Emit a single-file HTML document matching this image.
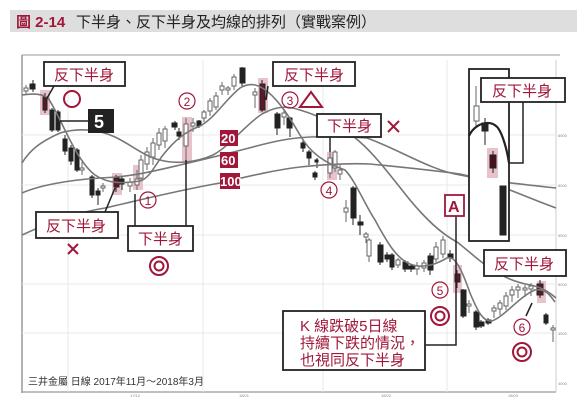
<!DOCTYPE html>
<html><head><meta charset="utf-8"><style>
html,body{margin:0;padding:0;background:#fff;}
svg{display:block;}
text{font-family:"Liberation Sans","Noto Sans CJK TC",sans-serif;}
</style></head><body>
<svg width="580" height="415" viewBox="0 0 580 415" xmlns="http://www.w3.org/2000/svg">
<rect x="10" y="10" width="567" height="22" fill="#dedede"/>
<text x="16" y="27" font-size="15" font-weight="bold" fill="#a0173a">圖 2-14</text>
<text x="76" y="27" font-size="15" fill="#222">下半身、反下半身及均線的排列（實戰案例）</text>
<line x1="22" y1="55" x2="560" y2="55" stroke="#bbb" stroke-width="1.5"/>
<line x1="22" y1="55" x2="22" y2="393" stroke="#999" stroke-width="1.5"/>
<line x1="22" y1="392" x2="556" y2="392" stroke="#999" stroke-width="1.2"/>
<line x1="556" y1="60" x2="556" y2="392" stroke="#ccc" stroke-width="1"/>
<g stroke="#e8e8e8" stroke-width="1">
<line x1="22" y1="135" x2="556" y2="135"/><line x1="22" y1="185" x2="556" y2="185"/>
<line x1="22" y1="235" x2="556" y2="235"/><line x1="22" y1="284" x2="556" y2="284"/>
<line x1="22" y1="333" x2="556" y2="333"/>
<line x1="68" y1="60" x2="68" y2="392"/><line x1="203" y1="60" x2="203" y2="392"/>
<line x1="323" y1="60" x2="323" y2="392"/><line x1="447" y1="60" x2="447" y2="392"/>
</g>
<g font-size="4" fill="#888">
<text x="558" y="137">6500</text><text x="558" y="187">6000</text><text x="558" y="237">5500</text>
<text x="558" y="286">5000</text><text x="558" y="335">4500</text><text x="558" y="385">4000</text>
<text x="130" y="397">17/12</text><text x="239" y="397">18/01</text><text x="381" y="397">18/02</text><text x="508" y="397">18/03</text>
</g>
<g fill="#e9c3cc">
<rect x="40" y="90" width="10" height="25"/><rect x="112" y="173" width="10" height="22"/>
<rect x="133" y="165" width="10" height="25"/><rect x="182" y="117" width="10" height="45"/>
<rect x="258" y="78" width="10" height="35"/><rect x="327" y="152" width="10" height="28"/>
<rect x="453" y="265" width="9" height="28"/><rect x="537" y="281" width="9" height="22"/>
</g>
<g stroke="#222" stroke-width="1">
<g fill="#222">
<line x1="33" y1="80" x2="33" y2="92"/><rect x="30" y="84" width="5" height="5"/>
<line x1="45" y1="93" x2="45" y2="113"/><rect x="43" y="97" width="4" height="13" fill="#5a1a2a"/>
<line x1="52" y1="108" x2="52" y2="132"/><rect x="50" y="110" width="4" height="20"/>
<line x1="58" y1="110" x2="58" y2="132"/><rect x="56" y="112" width="4" height="18"/>
<line x1="65" y1="135" x2="65" y2="155"/><rect x="63" y="139" width="4" height="12"/>
<line x1="71" y1="145" x2="71" y2="165"/><rect x="69" y="148" width="4" height="13"/>
<line x1="77" y1="148" x2="77" y2="172"/><rect x="75" y="150" width="4" height="20"/>
<line x1="92" y1="175" x2="92" y2="198"/><rect x="90" y="177" width="4" height="18"/>
<line x1="98" y1="188" x2="98" y2="205"/><rect x="96" y="191" width="4" height="4"/>
<line x1="116" y1="175" x2="116" y2="192"/><rect x="114" y="178" width="5" height="9" fill="#5a1a2a"/>
<line x1="122" y1="176" x2="122" y2="190"/><rect x="120" y="179" width="4" height="5"/>
<line x1="179" y1="128" x2="179" y2="140"/><rect x="177" y="132" width="4" height="4"/>
<line x1="175" y1="121" x2="175" y2="130"/><rect x="172" y="123" width="5" height="4"/>
<line x1="199" y1="120" x2="199" y2="128"/><rect x="197" y="121" width="4" height="5"/>
<line x1="242" y1="67" x2="242" y2="86"/><rect x="240" y="68" width="5" height="15"/>
<line x1="262" y1="80" x2="262" y2="112"/><rect x="260" y="84" width="5" height="26" fill="#5a1a2a"/>
<line x1="277" y1="112" x2="277" y2="135"/><rect x="275" y="114" width="5" height="14"/>
<line x1="290" y1="117" x2="290" y2="137"/><rect x="287" y="118" width="5" height="10"/>
<line x1="303" y1="140" x2="303" y2="152"/><rect x="301" y="143" width="4" height="5"/>
<line x1="309" y1="150" x2="309" y2="165"/><rect x="307" y="152" width="4" height="6"/>
<line x1="317" y1="158" x2="317" y2="168"/><rect x="315" y="160" width="3" height="2"/>
<line x1="315" y1="171" x2="315" y2="180"/><rect x="313" y="173" width="4" height="4"/>
<line x1="353" y1="186" x2="353" y2="225"/><rect x="351" y="188" width="5" height="30"/>
<line x1="360" y1="215" x2="360" y2="235"/><rect x="358" y="222" width="5" height="3"/>
<line x1="380" y1="242" x2="380" y2="265"/><rect x="378" y="245" width="5" height="17"/>
<line x1="387" y1="252" x2="387" y2="262"/><rect x="385" y="255" width="5" height="4"/>
<line x1="392" y1="253" x2="392" y2="270"/><rect x="390" y="255" width="4" height="12"/>
<line x1="405" y1="260" x2="405" y2="272"/><rect x="403" y="262" width="5" height="7"/>
<line x1="411" y1="264" x2="411" y2="272"/><rect x="409" y="266" width="5" height="3"/>
<line x1="430" y1="253" x2="430" y2="275"/><rect x="428" y="256" width="5" height="14"/>
<line x1="450" y1="250" x2="450" y2="262"/><rect x="448" y="254" width="5" height="4"/>
<line x1="457" y1="270" x2="457" y2="288"/><rect x="455" y="274" width="5" height="8" fill="#5a1a2a"/>
<line x1="463" y1="289" x2="463" y2="318"/><rect x="461" y="290" width="5" height="26"/>
<line x1="476" y1="310" x2="476" y2="330"/><rect x="474" y="312" width="5" height="15"/>
<line x1="481" y1="320" x2="481" y2="328"/><rect x="479" y="322" width="5" height="4"/>
<line x1="488" y1="318" x2="488" y2="325"/><rect x="486" y="320" width="5" height="3"/>
<line x1="540" y1="280" x2="540" y2="298"/><rect x="537" y="284" width="6" height="11" fill="#5a1a2a"/>
<line x1="546" y1="313" x2="546" y2="325"/><rect x="544" y="315" width="4" height="8"/>
</g>
<g fill="#fff" stroke="#666">
<line x1="26" y1="85" x2="26" y2="95"/><rect x="24" y="88" width="4" height="3"/>
<line x1="82" y1="162" x2="82" y2="175"/><rect x="80" y="168" width="4" height="2"/>
<line x1="103" y1="183" x2="103" y2="192"/><rect x="101" y="186" width="4" height="2"/>
<line x1="130" y1="178" x2="130" y2="192"/><rect x="128" y="182" width="4" height="4"/>
<line x1="137" y1="170" x2="137" y2="190"/><rect x="135" y="179" width="4" height="6"/>
<line x1="141" y1="155" x2="141" y2="180"/><rect x="139" y="160" width="4" height="18"/>
<line x1="147" y1="147" x2="147" y2="170"/><rect x="145" y="152" width="4" height="12"/>
<line x1="153" y1="138" x2="153" y2="165"/><rect x="151" y="143" width="4" height="14"/>
<line x1="159" y1="128" x2="159" y2="150"/><rect x="157" y="133" width="4" height="12"/>
<line x1="165" y1="126" x2="165" y2="148"/><rect x="163" y="129" width="4" height="12"/>
<line x1="186" y1="118" x2="186" y2="160"/><rect x="184" y="124" width="4" height="22"/>
<line x1="193" y1="118" x2="193" y2="132"/><rect x="191" y="123" width="4" height="3"/>
<line x1="204" y1="110" x2="204" y2="122"/><rect x="202" y="112" width="4" height="6"/>
<line x1="210" y1="98" x2="210" y2="116"/><rect x="208" y="101" width="4" height="10"/>
<line x1="216" y1="92" x2="216" y2="110"/><rect x="214" y="96" width="4" height="11"/>
<line x1="222" y1="82" x2="222" y2="95"/><rect x="220" y="86" width="4" height="4"/>
<line x1="228" y1="86" x2="228" y2="95"/><rect x="226" y="88" width="4" height="2"/>
<line x1="234" y1="74" x2="234" y2="90"/><rect x="232" y="77" width="4" height="9"/>
<line x1="255" y1="88" x2="255" y2="108"/><rect x="253" y="92" width="4" height="3"/>
<line x1="284" y1="110" x2="284" y2="125"/><rect x="282" y="113" width="4" height="4"/>
<line x1="330" y1="152" x2="330" y2="178"/><rect x="328" y="158" width="4" height="15"/>
<line x1="335" y1="150" x2="335" y2="172"/><rect x="333" y="152" width="4" height="16"/>
<line x1="340" y1="165" x2="340" y2="180"/><rect x="338" y="170" width="4" height="4"/>
<line x1="346" y1="200" x2="346" y2="222"/><rect x="344" y="208" width="4" height="4"/>
<line x1="366" y1="232" x2="366" y2="243"/><rect x="364" y="234" width="4" height="3"/>
<line x1="369" y1="238" x2="369" y2="262"/><rect x="367" y="240" width="4" height="16"/>
<line x1="398" y1="258" x2="398" y2="268"/><rect x="396" y="260" width="4" height="5"/>
<line x1="417" y1="262" x2="417" y2="275"/><rect x="415" y="266" width="4" height="3"/>
<line x1="424" y1="260" x2="424" y2="272"/><rect x="422" y="263" width="4" height="5"/>
<line x1="436" y1="242" x2="436" y2="262"/><rect x="434" y="247" width="4" height="12"/>
<line x1="443" y1="236" x2="443" y2="258"/><rect x="441" y="240" width="4" height="14"/>
<line x1="469" y1="300" x2="469" y2="313"/><rect x="467" y="304" width="4" height="2"/>
<line x1="494" y1="305" x2="494" y2="318"/><rect x="492" y="308" width="4" height="3"/>
<line x1="500" y1="300" x2="500" y2="315"/><rect x="498" y="303" width="4" height="6"/>
<line x1="506" y1="292" x2="506" y2="310"/><rect x="504" y="296" width="4" height="10"/>
<line x1="512" y1="286" x2="512" y2="302"/><rect x="510" y="290" width="4" height="5"/>
<line x1="518" y1="284" x2="518" y2="298"/><rect x="516" y="287" width="4" height="3"/>
<line x1="525" y1="285" x2="525" y2="297"/><rect x="523" y="288" width="4" height="2"/>
<line x1="531" y1="283" x2="531" y2="296"/><rect x="529" y="286" width="4" height="3"/>
<line x1="553" y1="325" x2="553" y2="342"/><rect x="551" y="328" width="4" height="2"/>
</g>
</g>
<g fill="none" stroke="#777" stroke-width="1.6">
<path d="M22,95 C35,93 43,94 48,98 C60,115 75,160 95,175 C110,185 125,183 140,181 C150,178 155,165 163,155 C175,140 185,132 200,126 C215,118 225,100 240,88 C250,82 258,84 268,92 C280,102 290,118 300,135 C310,153 325,163 345,170 C355,180 365,205 375,220 C385,238 395,258 410,264 C425,270 440,262 447,258 C455,255 462,270 470,293 C478,312 483,322 492,321 C505,316 520,296 535,290 C545,288 550,295 555,302"/>
<path d="M22,163 C30,150 40,142 60,133 C80,127 100,130 115,137 C130,144 145,157 160,160 C175,164 195,163 213,155 C230,146 245,125 262,114 C275,107 285,105 300,110 C320,116 345,128 360,142 C375,155 390,175 410,200 C425,218 440,233 457,242 C470,252 480,262 490,268 C505,278 515,282 530,285 C542,287 550,293 556,298"/>
<path d="M22,193 C40,185 70,180 100,178 C130,177 150,172 180,165 C210,158 230,153 253,147 C275,141 290,138 310,137 C330,136 350,137 367,138 C400,150 430,170 460,175 C485,180 510,183 556,188"/>
<path d="M22,235 C50,222 80,212 105,208 C140,200 180,190 220,183 C250,176 275,170 300,167 C330,164 350,163 370,164 C400,167 430,170 460,174 C490,180 520,195 556,208"/>
</g>
<rect x="469" y="69" width="40" height="172" fill="#fff" stroke="#222" stroke-width="1.8"/>
<g stroke="#666"><line x1="476" y1="86" x2="476" y2="127"/><rect x="474" y="106" width="5" height="15" fill="#fff"/></g>
<rect x="487" y="148" width="11" height="30" fill="#e9c3cc"/>
<g stroke="#222"><line x1="485" y1="118" x2="485" y2="145"/><rect x="482" y="123" width="6" height="8" fill="#222"/>
<line x1="493" y1="151" x2="493" y2="173"/><rect x="490" y="155" width="6" height="13" fill="#4a1020"/>
<rect x="500" y="186" width="6" height="49" fill="#222"/></g>
<path d="M469,136 C474,124 490,118 498,128 C503,135 507,150 509,163" fill="none" stroke="#222" stroke-width="2.2"/>
<g stroke="#222" stroke-width="1.5" fill="none">
<line x1="54" y1="86" x2="46" y2="100"/>
<line x1="60" y1="121" x2="88" y2="121"/>
<line x1="268" y1="86" x2="266" y2="100"/>
<line x1="330" y1="137" x2="330" y2="152"/>
<line x1="105" y1="212" x2="115" y2="188"/>
<line x1="135" y1="194" x2="135" y2="226"/>
<line x1="186" y1="160" x2="186" y2="226"/>
<polyline points="509,163 523,163 523,102"/>
<polyline points="425,345 456,345 456,216"/>
<line x1="532" y1="303" x2="526" y2="316"/>
</g>
<g fill="#fff" stroke="#222" stroke-width="1.8">
<rect x="44" y="62" width="81" height="24"/>
<rect x="273" y="62" width="82" height="24"/>
<rect x="317" y="114" width="64" height="23"/>
<rect x="36" y="212" width="82" height="26"/>
<rect x="128" y="226" width="65" height="25"/>
<rect x="481" y="78" width="84" height="24"/>
<rect x="484" y="250" width="82" height="26"/>
<rect x="283" y="311" width="142" height="59"/>
</g>
<g font-size="15" fill="#a0173a">
<text x="54" y="80">反下半身</text>
<text x="284" y="80">反下半身</text>
<text x="327" y="131">下半身</text>
<text x="46" y="231">反下半身</text>
<text x="138" y="244">下半身</text>
<text x="492" y="96">反下半身</text>
<text x="494" y="269">反下半身</text>
<text x="300" y="331">K 線跌破5日線</text>
<text x="300" y="348">持續下跌的情況，</text>
<text x="300" y="365">也視同反下半身</text>
</g>
<rect x="88" y="109" width="26" height="24" fill="#222"/>
<text x="94" y="128" font-size="18" font-weight="bold" fill="#fff">5</text>
<g fill="#a0173a"><rect x="220" y="130" width="18" height="16"/><rect x="220" y="152" width="18" height="16"/><rect x="220" y="173" width="20" height="16"/></g>
<g font-size="13" font-weight="bold" fill="#fff"><text x="221" y="143">20</text><text x="221" y="165">60</text><text x="220" y="186">100</text></g>
<rect x="445" y="195" width="19" height="21" fill="#fff" stroke="#a0173a" stroke-width="1.8"/>
<text x="448" y="212" font-size="16" font-weight="bold" fill="#a0173a">A</text>
<g fill="none" stroke="#a0173a" stroke-width="2">
<circle cx="72" cy="99" r="8"/>
<path d="M300,107 L311,92 L322,107 Z"/>
<path d="M388,121 L399,132 M399,121 L388,132"/>
<path d="M68,244 L78,254 M78,244 L68,254"/>
<circle cx="159" cy="266" r="9"/><circle cx="159" cy="266" r="4.5"/>
<circle cx="440" cy="316" r="9"/><circle cx="440" cy="316" r="4.5"/>
<circle cx="522" cy="352" r="9"/><circle cx="522" cy="352" r="4.5"/>
</g>
<g fill="none" stroke="#a0173a" stroke-width="1.2">
<circle cx="148" cy="200" r="8"/><circle cx="187" cy="101" r="8"/><circle cx="290" cy="100" r="8"/>
<circle cx="329" cy="190" r="8"/><circle cx="440" cy="290" r="8"/><circle cx="522" cy="327" r="8"/>
</g>
<g font-size="12" fill="#a0173a" text-anchor="middle">
<text x="148" y="205">1</text><text x="187" y="106">2</text><text x="290" y="105">3</text>
<text x="329" y="195">4</text><text x="440" y="295">5</text><text x="522" y="332">6</text>
</g>
<text x="28" y="385" font-size="10" fill="#333">三井金屬 日線 2017年11月～2018年3月</text>
</svg>
</body></html>
